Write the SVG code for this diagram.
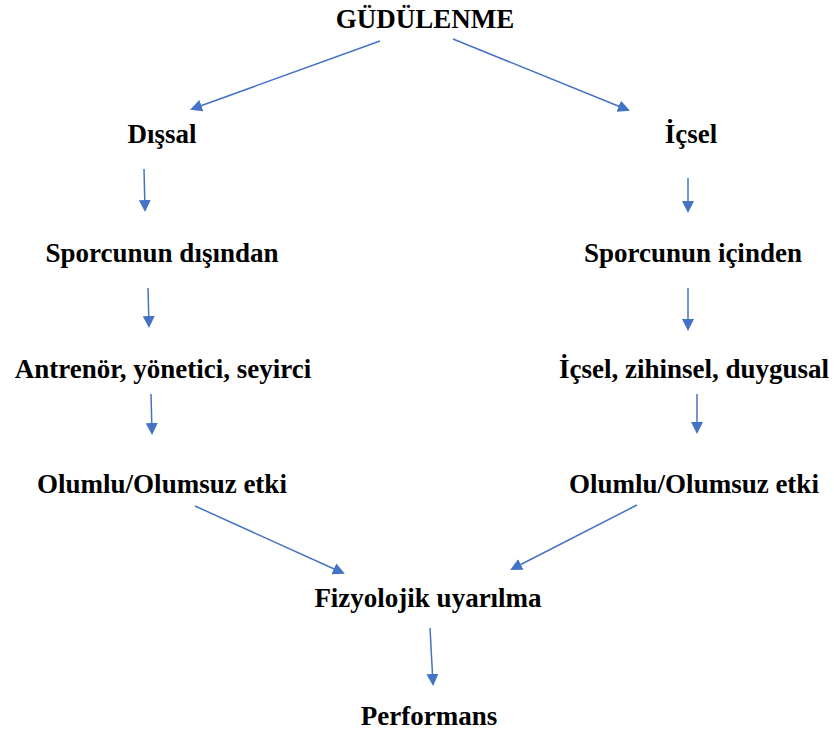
<svg xmlns="http://www.w3.org/2000/svg" width="834" height="733" viewBox="0 0 834 733">
<style>
text{font-family:"Liberation Serif","Times New Roman",serif;font-weight:bold;font-size:27px;fill:#000;text-anchor:middle}
.c line{stroke:#4472C4;stroke-width:1.5;marker-end:url(#a)}
</style>
<defs>
<marker id="a" markerWidth="12" markerHeight="12" refX="10" refY="6" orient="auto" markerUnits="userSpaceOnUse" viewBox="0 0 12 12">
<path d="M0,0 L12,6 L0,12 z" fill="#4472C4"/>
</marker>
</defs>
<rect width="834" height="733" fill="#fff"/>
<g id="n-gudulenme"><text x="425" y="28">GÜDÜLENME</text></g>
<g id="n-dissal"><text x="162" y="143">Dışsal</text></g>
<g id="n-icsel"><text x="691" y="143">İçsel</text></g>
<g id="n-disindan"><text x="162" y="262">Sporcunun dışından</text></g>
<g id="n-icinden"><text x="693" y="262">Sporcunun içinden</text></g>
<g id="n-antrenor"><text x="163" y="378">Antrenör, yönetici, seyirci</text></g>
<g id="n-zihinsel"><text x="694" y="378">İçsel, zihinsel, duygusal</text></g>
<g id="n-etki1"><text x="162" y="493">Olumlu/Olumsuz etki</text></g>
<g id="n-etki2"><text x="694" y="493">Olumlu/Olumsuz etki</text></g>
<g id="n-fizyolojik"><text x="428" y="607">Fizyolojik uyarılma</text></g>
<g id="n-performans"><text x="429" y="725">Performans</text></g>
<g id="connectors" class="c">
<line x1="380" y1="41" x2="192" y2="109"/>
<line x1="453" y1="39" x2="628" y2="110"/>
<line x1="144" y1="169" x2="145" y2="210"/>
<line x1="688" y1="178" x2="688" y2="211"/>
<line x1="148" y1="288" x2="149" y2="326"/>
<line x1="688" y1="288" x2="688" y2="329"/>
<line x1="151" y1="394" x2="152" y2="433"/>
<line x1="697" y1="394" x2="697" y2="432"/>
<line x1="195" y1="506" x2="343" y2="573"/>
<line x1="637" y1="505" x2="512" y2="569"/>
<line x1="430" y1="628" x2="433" y2="684"/>
</g>
</svg>
